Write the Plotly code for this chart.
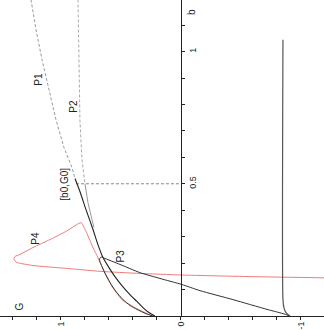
import plotly.graph_objects as go

p1_dash_G = [1.25, 1.208, 1.158, 1.10, 1.042, 0.975, 0.908, 0.883]
p1_dash_b = [1.197, 1.083, 0.970, 0.856, 0.743, 0.637, 0.561, 0.520]

main_G = [0.883, 0.842, 0.792, 0.733, 0.692, 0.65, 0.60, 0.55, 0.492, 0.425, 0.367, 0.317, 0.267, 0.217]
main_b = [0.520, 0.471, 0.403, 0.327, 0.270, 0.221, 0.183, 0.149, 0.115, 0.081, 0.055, 0.032, 0.013, 0.0]

p2_dash_G = [0.858, 0.85, 0.842, 0.825, 0.80]
p2_dash_b = [1.197, 0.970, 0.743, 0.592, 0.50]
p2_G = [0.80, 0.775, 0.742, 0.725]
p2_b = [0.50, 0.429, 0.365, 0.335]

p3_G = [0.233, 0.292, 0.367, 0.425, 0.483, 0.542, 0.592, 0.633, 0.658, 0.675, 0.679, 0.667, 0.642,
        0.508, 0.342, 0.175, -0.008, -0.158, -0.433, -0.717, -0.85, -0.908]
p3_b = [0.0, 0.009, 0.025, 0.040, 0.062, 0.093, 0.127, 0.161, 0.187, 0.206, 0.215, 0.223, 0.219,
        0.195, 0.164, 0.142, 0.119, 0.096, 0.062, 0.025, 0.009, 0.0]

vert_G = [-0.908, -0.875, -0.858, -0.85, -0.85]
vert_b = [0.0, 0.013, 0.032, 0.062, 1.045]

p4_G = [-1.25, -0.575, -0.008, 0.342, 0.675, 0.953, 1.233, 1.369, 1.392, 1.383, 1.342, 1.233, 1.092,
        0.953, 0.833, 0.808, 0.783, 0.758, 0.725, 0.70, 0.675, 0.642, 0.608, 0.575, 0.533, 0.492,
        0.425, 0.367, 0.30, 0.242]
p4_b = [0.144, 0.149, 0.155, 0.161, 0.169, 0.180, 0.191, 0.203, 0.214, 0.225, 0.233, 0.259, 0.289,
        0.321, 0.353, 0.335, 0.312, 0.285, 0.251, 0.229, 0.202, 0.172, 0.142, 0.112, 0.085, 0.062,
        0.043, 0.028, 0.013, 0.0]

b0, G0 = 0.5, 0.875

labels = ["P1", "P2", "[b0,G0]", "P3", "P4", "b", "G"]
label_G = [1.19, 0.892, 0.967, 0.508, 1.21, -0.083, 1.342]
label_b = [0.894, 0.795, 0.5, 0.225, 0.295, 1.149, 0.036]

font = "Liberation Sans Narrow, Liberation Sans, Arial, sans-serif"
dash = "3px,2px"

fig = go.Figure()

# dashed guide from [b0,G0] to the b axis
fig.add_trace(go.Scatter(x=[G0, 0], y=[b0, b0], mode="lines",
                         line=dict(color="#888888", width=1, dash=dash)))

fig.add_trace(go.Scatter(x=p1_dash_G, y=p1_dash_b, mode="lines",
                         line=dict(color="#999999", width=1, dash=dash)))
fig.add_trace(go.Scatter(x=p2_dash_G, y=p2_dash_b, mode="lines",
                         line=dict(color="#aaaaaa", width=1, dash=dash)))
fig.add_trace(go.Scatter(x=p2_G, y=p2_b, mode="lines",
                         line=dict(color="#999999", width=1)))

# red P4
fig.add_trace(go.Scatter(x=p4_G, y=p4_b, mode="lines",
                         line=dict(color="#f27a7a", width=1, shape="spline", smoothing=0.6)))

# black curves
fig.add_trace(go.Scatter(x=main_G, y=main_b, mode="lines",
                         line=dict(color="#222222", width=1.1, shape="spline", smoothing=0.6)))
fig.add_trace(go.Scatter(x=p3_G, y=p3_b, mode="lines",
                         line=dict(color="#333333", width=1, shape="spline", smoothing=0.6)))
fig.add_trace(go.Scatter(x=vert_G, y=vert_b, mode="lines",
                         line=dict(color="#555555", width=1.2, shape="spline", smoothing=0.6)))

for t, gx, by in zip(labels, label_G, label_b):
    fig.add_annotation(x=gx, y=by, text=t, showarrow=False, textangle=-90,
                       font=dict(family=font, size=10, color="#222222"))

fig.update_layout(
    width=324, height=330,
    margin=dict(l=0, r=0, t=0, b=14),
    plot_bgcolor="white", paper_bgcolor="white",
    showlegend=False,
    font=dict(family=font, size=10, color="#222222"),
)

fig.update_xaxes(
    range=[1.508, -1.192], showgrid=False, zeroline=False, automargin=False,
    showline=True, linecolor="#222222", linewidth=1,
    ticks="outside", ticklen=3, tickcolor="#222222",
    tickvals=[-1, 0, 1], ticktext=["-1", "0", "1"], tickangle=-90,
    tickfont=dict(size=9), ticklabelstandoff=-2,
    minor=dict(dtick=0.2, tick0=0, ticks="outside", ticklen=3, tickcolor="#222222"),
)
fig.update_yaxes(
    range=[0, 1.195], showgrid=False, zeroline=False, automargin=False,
    anchor="free", position=181 / 324, side="right",
    showline=True, linecolor="#222222", linewidth=1,
    ticks="outside", ticklen=3, tickcolor="#222222",
    tickvals=[0.5, 1], ticktext=["0.5", "1"], tickangle=-90,
    tickfont=dict(size=9),
    minor=dict(dtick=0.1, tick0=0, ticks="outside", ticklen=3, tickcolor="#222222"),
)

# the page body has a default 8px margin; drop it so the figure fills the window
fig.write_html("out.html", config={"displayModeBar": False},
               post_script="document.body.style.margin='0';")
